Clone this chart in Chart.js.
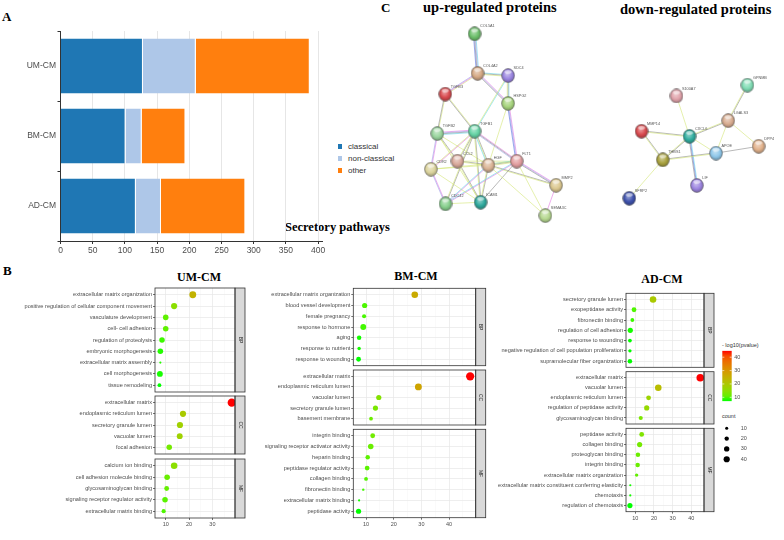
<!DOCTYPE html>
<html>
<head>
<meta charset="utf-8">
<script src="https://cdn.jsdelivr.net/npm/chart.js@4/dist/chart.umd.min.js"></script>
<style>
  body { margin: 0; background: #fff; }
  #page { position: relative; width: 784px; height: 540px; overflow: hidden; background: #fff; font-family: "Liberation Sans", Arial, sans-serif; }
  #page canvas { position: absolute; }
  .lbl { position: absolute; white-space: nowrap; line-height: 1; }
  .serif { font-family: "Liberation Serif", "Times New Roman", serif; font-weight: bold; color: #000; }
  .mid { transform: translateX(-50%); }
  .small { font-size: 5.5px; color: #333; }
</style>
</head>
<body>
<div id="page">
  <div class="lbl serif" style="left:2px;top:10px;font-size:13px">A</div>
  <div class="lbl serif" style="left:3px;top:264px;font-size:13px">B</div>
  <div class="lbl serif" style="left:381px;top:1px;font-size:13px">C</div>
  <div class="lbl serif" style="left:285px;top:221px;font-size:12.5px">Secretory pathways</div>
  <div class="lbl serif" style="left:423px;top:0px;font-size:14.5px">up-regulated proteins</div>
  <div class="lbl serif" style="left:620px;top:2px;font-size:14.5px">down-regulated proteins</div>
  <div class="lbl serif mid" style="left:199px;top:271px;font-size:12px">UM-CM</div>
  <div class="lbl serif mid" style="left:416px;top:270px;font-size:12px">BM-CM</div>
  <div class="lbl serif mid" style="left:662px;top:273px;font-size:12px">AD-CM</div>
  <div class="lbl small" style="left:722px;top:343px">- log10(pvalue)</div>
  <div class="lbl small" style="left:722px;top:414px">count</div>
  <div id="legendA"></div>
</div>
<script>
'use strict';

Chart.defaults.font.family = '"Liberation Sans", Arial, sans-serif';

// A - secretory pathways
let groups = ['UM-CM', 'BM-CM', 'AD-CM'];
let classical = [128, 101, 117];
let nonClassical = [82, 25, 39];
let other = [177, 68, 131];
let pathwayNames = ['classical', 'non-classical', 'other'];
let pathwayColors = ['#1f77b4', '#aec7e8', '#ff7f0e'];
let pathwayTicks = [0, 50, 100, 150, 200, 250, 300, 350, 400];

// B - GO enrichment (x = -log10 p, count = gene count)
let umBpTerms = ['extracellular matrix organization', 'positive regulation of cellular component movement', 'vasculature development', 'cell- cell adhesion', 'regulation of proteolysis', 'embryonic morphogenesis', 'extracellular matrix assembly', 'cell morphogenesis', 'tissue remodeling'];
let umBpX = [21.6, 13.6, 10.0, 10.0, 8.4, 7.7, 7.7, 7.5, 7.3];
let umBpCount = [49, 40, 32, 32, 32, 32, 5, 36, 15];
let umCcTerms = ['extracellular matrix', 'endoplasmic reticulum lumen', 'secretory granule lumen', 'vacuolar lumen', 'focal adhesion'];
let umCcX = [38.3, 17.4, 16.1, 16.0, 11.5];
let umCcCount = [71, 40, 40, 36, 32];
let umMfTerms = ['calcium ion binding', 'cell adhesion molecule binding', 'glycosaminoglycan binding', 'signaling receptor regulator activity', 'extracellular matrix binding'];
let umMfX = [13.6, 10.6, 10.4, 9.7, 9.1];
let umMfCount = [45, 32, 24, 32, 18];

let bmBpTerms = ['extracellular matrix organization', 'blood vessel development', 'female pregnancy', 'response to hormone', 'aging', 'response to nutrient', 'response to wounding'];
let bmBpX = [27.6, 9.5, 9.3, 9.0, 7.5, 7.5, 7.3];
let bmBpCount = [45, 28, 18, 36, 21, 12, 24];
let bmCcTerms = ['extracellular matrix', 'endoplasmic reticulum lumen', 'vacuolar lumen', 'secretory granule lumen', 'basement membrane'];
let bmCcX = [47.6, 28.9, 14.6, 13.4, 11.8];
let bmCcCount = [71, 49, 28, 28, 15];
let bmMfTerms = ['integrin binding', 'signaling receptor activator activity', 'heparin binding', 'peptidase regulator activity', 'collagen binding', 'fibronectin binding', 'extracellular matrix binding', 'peptidase activity'];
let bmMfX = [12.4, 11.7, 10.6, 10.4, 10.0, 9.0, 7.5, 7.3];
let bmMfCount = [24, 32, 21, 24, 15, 6, 5, 28];

let adBpTerms = ['secretory granule lumen', 'exopeptidase activity', 'fibronectin binding', 'regulation of cell adhesion', 'response to wounding', 'negative regulation of cell population proliferation', 'supramolecular fiber organization'];
let adBpX = [19.5, 9.3, 8.4, 7.3, 7.1, 7.1, 7.1];
let adBpCount = [45, 24, 15, 28, 15, 12, 21];
let adCcTerms = ['extracellular matrix', 'vacuolar lumen', 'endoplasmic reticulum lumen', 'regulation of peptidase activity', 'glycosaminoglycan binding'];
let adCcX = [44.8, 22.3, 17.1, 16.1, 12.9];
let adCcCount = [60, 45, 24, 28, 18];
let adMfTerms = ['peptidase activity', 'collagen binding', 'proteoglycan binding', 'integrin binding', 'extracellular matrix organization', 'extracellular matrix constituent conferring elasticity', 'chemotaxis', 'regulation of chemotaxis'];
let adMfX = [13.4, 12.3, 11.4, 11.25, 10.7, 7.3, 7.3, 7.1];
let adMfCount = [24, 28, 21, 21, 12, 5, 5, 28];

let enrichTicks = [10, 20, 30, 40];
let colorTicks = [10, 20, 30, 40];
let countTicks = [10, 20, 30, 40];

// C - STRING networks
let upNames = ['COL5A1', 'COL4A2', 'SDC4', 'TGFB3', 'HSPG2', 'TGFB2', 'TGFB1', 'CCL2', 'HGF', 'FLT1', 'CDR2', 'MMP2', 'CDC42', 'ICAM1', 'SEMA3C'];
let upX = [72.7, 76, 109.3, 40.7, 109.3, 32, 72.7, 54, 87.7, 118.7, 25, 161.7, 41, 79.3, 150];
let upY = [11.7, 54.3, 56.7, 76.7, 86.7, 119.3, 116.7, 149, 153.3, 149, 157.7, 175, 195, 193.3, 207.7];
let upColors = ['#6cbf6a', '#d6aa86', '#9a85e0', '#d84a4e', '#a7d47e', '#9ad59e', '#66d4a5', '#d9a89a', '#dbb596', '#e39ea0', '#dcd49e', '#dcc890', '#86cf8c', '#2fa89c', '#b6d890'];
let upEdges = [
  ['COL5A1', 'COL4A2', 'cpkb'], ['COL4A2', 'SDC4', 'cky'], ['COL4A2', 'TGFB3', 'ymp'], ['COL4A2', 'HSPG2', 'mpk'],
  ['SDC4', 'HSPG2', 'cky'], ['SDC4', 'TGFB1', 'cy'], ['TGFB3', 'TGFB2', 'yk'], ['TGFB3', 'TGFB1', 'yk'],
  ['HSPG2', 'FLT1', 'mpb'], ['HSPG2', 'HGF', 'y'], ['TGFB2', 'TGFB1', 'mpkc'], ['TGFB2', 'CDR2', 'mp'],
  ['TGFB2', 'CCL2', 'ky'], ['TGFB2', 'HGF', 'y'], ['TGFB2', 'ICAM1', 'y'], ['TGFB1', 'CDR2', 'my'],
  ['TGFB1', 'CCL2', 'ky'], ['TGFB1', 'HGF', 'kyc'], ['TGFB1', 'FLT1', 'mkp'], ['TGFB1', 'ICAM1', 'ky'],
  ['TGFB1', 'CDC42', 'ky'], ['CCL2', 'HGF', 'ky'], ['CCL2', 'ICAM1', 'ky'], ['CCL2', 'FLT1', 'y'],
  ['HGF', 'FLT1', 'cky'], ['HGF', 'ICAM1', 'ky'], ['HGF', 'MMP2', 'ky'], ['FLT1', 'MMP2', 'mpk'],
  ['FLT1', 'CDC42', 'mc'], ['FLT1', 'ICAM1', 'k'], ['FLT1', 'SEMA3C', 'y'], ['HGF', 'SEMA3C', 'y'],
  ['MMP2', 'SEMA3C', 'm'], ['CDR2', 'CDC42', 'mp'], ['CDR2', 'ICAM1', 'y'], ['CDR2', 'HGF', 'y'],
  ['CDR2', 'FLT1', 'y'], ['CDC42', 'ICAM1', 'y'], ['HGF', 'CDC42', 'mc']
];

let downNames = ['GPNMB', 'S100A7', 'LGALS3', 'MMP14', 'CXCL6', 'DPP4', 'APOE', 'THBS1', 'LIF', 'SFRP2'];
let downX = [152.7, 75, 131.7, 36.7, 89.3, 165, 118.3, 60, 97.3, 23.3];
let downY = [19, 31, 58.3, 70, 75.7, 86.7, 94.3, 101.7, 130, 144.3];
let downColors = ['#80dcb4', '#e0a2aa', '#d9ad90', '#d94a4e', '#30ad9f', '#e2b28c', '#90c8ea', '#a9a23f', '#9d85e0', '#3f52ad'];
let downEdges = [
  ['S100A7', 'CXCL6', 'y'], ['GPNMB', 'LGALS3', 'ky'], ['LGALS3', 'CXCL6', 'ky'], ['LGALS3', 'APOE', 'y'],
  ['LGALS3', 'DPP4', 'y'], ['MMP14', 'CXCL6', 'ky'], ['MMP14', 'THBS1', 'ky'], ['CXCL6', 'THBS1', 'ky'],
  ['CXCL6', 'APOE', 'y'], ['CXCL6', 'LIF', 'cbk'], ['THBS1', 'APOE', 'ky'], ['APOE', 'DPP4', 'k'],
  ['THBS1', 'SFRP2', 'y']
];
let evidenceColors = { c: '#66d8ea', m: '#e278e2', y: '#d4e676', k: '#8a8a8a', p: '#a0a0e8', b: '#5a70e0' };

let page = document.getElementById('page');

function addCanvas(left, top, w, h) {
  let c = document.createElement('canvas');
  c.width = w;
  c.height = h;
  c.style.left = left + 'px';
  c.style.top = top + 'px';
  page.appendChild(c);
  return c;
}

// ggplot style green -> red gradient in Lab space
function rgbToLab(rgb) {
  let [r, g, b] = rgb.map(v => { v /= 255; return v <= 0.04045 ? v / 12.92 : Math.pow((v + 0.055) / 1.055, 2.4); });
  let x = (r * 0.4124 + g * 0.3576 + b * 0.1805) / 0.95047;
  let y = r * 0.2126 + g * 0.7152 + b * 0.0722;
  let z = (r * 0.0193 + g * 0.1192 + b * 0.9505) / 1.08883;
  let f = t => t > 0.008856 ? Math.cbrt(t) : 7.787 * t + 16 / 116;
  return [116 * f(y) - 16, 500 * (f(x) - f(y)), 200 * (f(y) - f(z))];
}
function labToRgb(lab) {
  let fy = (lab[0] + 16) / 116, fx = fy + lab[1] / 500, fz = fy - lab[2] / 200;
  let inv = t => t * t * t > 0.008856 ? t * t * t : (t - 16 / 116) / 7.787;
  let x = inv(fx) * 0.95047, y = inv(fy), z = inv(fz) * 1.08883;
  let r = x * 3.2406 - y * 1.5372 - z * 0.4986;
  let g = -x * 0.9689 + y * 1.8758 + z * 0.0415;
  let b = x * 0.0557 - y * 0.2040 + z * 1.0570;
  return [r, g, b].map(v => {
    v = v <= 0.0031308 ? 12.92 * v : 1.055 * Math.pow(v, 1 / 2.4) - 0.055;
    return Math.round(Math.max(0, Math.min(1, v)) * 255);
  });
}
let lowLab = rgbToLab([0, 255, 0]);
let highLab = rgbToLab([255, 0, 0]);
function pvalColor(v, lo, hi) {
  let t = Math.max(0, Math.min(1, (v - lo) / (hi - lo)));
  let rgb = labToRgb(lowLab.map((c, i) => c + (highLab[i] - c) * t));
  return 'rgb(' + rgb.join(',') + ')';
}
function sizeFor(count) {
  return 0.49 * Math.sqrt(count);
}

// ---------- A ----------
let canvasA = addCanvas(0, 0, 330, 262);
new Chart(canvasA, {
  type: 'bar',
  data: {
    labels: groups,
    datasets: [classical, nonClassical, other].map((d, i) => ({
      label: pathwayNames[i],
      data: d,
      backgroundColor: pathwayColors[i],
      borderColor: '#ffffff',
      borderWidth: { right: 1, left: 0, top: 0, bottom: 0 },
      borderSkipped: false,
      barPercentage: 1,
      categoryPercentage: 0.786
    }))
  },
  options: {
    indexAxis: 'y',
    responsive: false,
    animation: false,
    events: [],
    layout: { padding: { top: 31, right: 8, left: 0, bottom: 0 } },
    plugins: { legend: { display: false }, tooltip: { enabled: false } },
    scales: {
      x: {
        stacked: true, min: 0, max: 406,
        afterBuildTicks: s => { s.ticks = pathwayTicks.map(v => ({ value: v })); },
        afterFit: s => { s.height = 21; },
        ticks: { font: { size: 8.5 }, color: '#4d4d4d', padding: 2, maxRotation: 0, autoSkip: false },
        grid: { color: '#e6e6e6', tickLength: 3, tickColor: '#333' },
        border: { color: '#333', width: 1 }
      },
      y: {
        stacked: true,
        afterFit: s => { s.width = 60.5; },
        ticks: { font: { size: 8.5 }, color: '#4d4d4d', padding: 1.5 },
        grid: { drawOnChartArea: false, tickLength: 3, color: '#333' },
        border: { color: '#333', width: 1 }
      }
    }
  }
});

let legendA = document.getElementById('legendA');
pathwayNames.forEach((name, i) => {
  let d = document.createElement('div');
  d.className = 'lbl';
  d.style.left = '338px';
  d.style.top = (143 + i * 12) + 'px';
  d.style.fontSize = '8px';
  d.style.color = '#333';
  d.innerHTML = '<span style="display:inline-block;width:4px;height:5px;margin-right:6px;background:' + pathwayColors[i] + '"></span>' + name;
  legendA.appendChild(d);
});

// ---------- B ----------
function facetChart(o) {
  let stripW = 10;
  let cTop = Math.floor(o.top) - 8;
  let padTop = o.top - cTop;
  let h = Math.ceil(o.bottom + (o.last ? 10 : 8)) - cTop;
  let axisH = o.last ? h - (o.bottom - cTop) : 0;
  let padBottom = o.last ? 0 : h - (o.bottom - cTop);
  let w = Math.ceil(o.plotRight + stripW + 3) - o.left;
  let padRight = w - (o.plotRight - o.left);
  let yW = o.plotLeft - o.left;
  let canvas = addCanvas(o.left, cTop, w, h);
  let minor = [];
  for (let v = 5; v <= o.xmax; v += 5) {
    if (v >= o.xmin) minor.push(v);
  }
  let frame = {
    id: 'facetFrame',
    afterDraw(chart) {
      let a = chart.chartArea, ctx = chart.ctx;
      ctx.save();
      ctx.fillStyle = '#d9d9d9';
      ctx.fillRect(a.right, a.top, stripW, a.bottom - a.top);
      ctx.strokeStyle = '#333';
      ctx.lineWidth = 0.8;
      ctx.strokeRect(a.left, a.top, a.right - a.left, a.bottom - a.top);
      ctx.strokeRect(a.right, a.top, stripW, a.bottom - a.top);
      ctx.translate(a.right + stripW / 2, (a.top + a.bottom) / 2);
      ctx.rotate(Math.PI / 2);
      ctx.fillStyle = '#1a1a1a';
      ctx.font = '5px "Liberation Sans"';
      ctx.textAlign = 'center';
      ctx.textBaseline = 'middle';
      ctx.fillText(o.strip, 0, 0);
      ctx.restore();
    }
  };
  new Chart(canvas, {
    type: 'scatter',
    data: {
      datasets: [{
        data: o.xs.map((x, i) => ({ x: x, y: i })),
        pointRadius: o.counts.map(sizeFor),
        backgroundColor: o.xs.map(x => pvalColor(x, o.lo, o.hi)),
        borderWidth: 0,
        clip: false
      }]
    },
    options: {
      responsive: false,
      animation: false,
      events: [],
      layout: { padding: { top: padTop, bottom: padBottom, left: 0, right: padRight } },
      plugins: { legend: { display: false }, tooltip: { enabled: false } },
      scales: {
        x: {
          type: 'linear', min: o.xmin, max: o.xmax,
          afterBuildTicks: s => { s.ticks = minor.map(v => ({ value: v })); },
          afterFit: s => { s.height = axisH; },
          ticks: {
            display: o.last, autoSkip: false, maxRotation: 0, padding: 1,
            font: { size: 5.5 }, color: '#4d4d4d',
            callback: v => enrichTicks.includes(v) ? v : ''
          },
          grid: {
            color: c => c.tick && c.tick.value % 10 === 0 ? '#e6e6e6' : '#f3f3f3',
            lineWidth: c => c.tick && c.tick.value % 10 === 0 ? 0.7 : 0.4,
            drawTicks: o.last, tickLength: 2,
            tickColor: c => c.tick && c.tick.value % 10 === 0 ? '#333' : 'rgba(0,0,0,0)'
          },
          border: { display: false }
        },
        y: {
          type: 'linear', reverse: true, min: -0.6, max: o.terms.length - 0.4,
          afterBuildTicks: s => { s.ticks = o.terms.map((t, i) => ({ value: i })); },
          afterFit: s => { s.width = yW; },
          ticks: { autoSkip: false, padding: 1, font: { size: 5.6 }, color: '#4d4d4d', callback: v => o.terms[v] },
          grid: { color: '#e6e6e6', lineWidth: 0.7, tickLength: 2, tickColor: '#333' },
          border: { display: false }
        }
      }
    },
    plugins: [frame]
  });
}

function enrichPanel(p) {
  let all = p.facets.reduce((acc, f) => acc.concat(f.xs), []);
  let lo = Math.min(...all), hi = Math.max(...all);
  p.facets.forEach((f, i) => {
    facetChart({
      left: p.left, plotLeft: p.plotLeft, plotRight: p.plotRight,
      top: f.top, bottom: f.bottom, terms: f.terms, xs: f.xs, counts: f.counts,
      strip: f.strip, last: i === p.facets.length - 1,
      xmin: p.xmin, xmax: p.xmax, lo: lo, hi: hi
    });
  });
  return [lo, hi];
}

enrichPanel({
  left: 0, plotLeft: 155, plotRight: 235, xmin: 5.4, xmax: 39.7,
  facets: [
    { strip: 'BP', top: 288, bottom: 392, terms: umBpTerms, xs: umBpX, counts: umBpCount },
    { strip: 'CC', top: 396, bottom: 454, terms: umCcTerms, xs: umCcX, counts: umCcCount },
    { strip: 'MF', top: 459, bottom: 518, terms: umMfTerms, xs: umMfX, counts: umMfCount }
  ]
});
enrichPanel({
  left: 248, plotLeft: 353.3, plotRight: 475.7, xmin: 5.4, xmax: 49.6,
  facets: [
    { strip: 'BP', top: 288.3, bottom: 365.7, terms: bmBpTerms, xs: bmBpX, counts: bmBpCount },
    { strip: 'CC', top: 370, bottom: 425, terms: bmCcTerms, xs: bmCcX, counts: bmCcCount },
    { strip: 'MF', top: 429.3, bottom: 517.7, terms: bmMfTerms, xs: bmMfX, counts: bmMfCount }
  ]
});
let adRange = enrichPanel({
  left: 490, plotLeft: 626, plotRight: 704, xmin: 5.0, xmax: 46.8,
  facets: [
    { strip: 'BP', top: 293.3, bottom: 367.3, terms: adBpTerms, xs: adBpX, counts: adBpCount },
    { strip: 'CC', top: 371.7, bottom: 424, terms: adCcTerms, xs: adCcX, counts: adCcCount },
    { strip: 'MF', top: 428.3, bottom: 511.7, terms: adMfTerms, xs: adMfX, counts: adMfCount }
  ]
});

// colour bar legend
let cbCanvas = addCanvas(715, 345, 40, 62);
new Chart(cbCanvas, {
  type: 'bar',
  data: {
    labels: [''],
    datasets: [{
      data: [adRange],
      barPercentage: 1,
      categoryPercentage: 1,
      borderWidth: 0,
      backgroundColor: c => {
        let a = c.chart.chartArea;
        if (!a) return '#888';
        let g = c.chart.ctx.createLinearGradient(0, a.bottom, 0, a.top);
        for (let k = 0; k <= 10; k++) {
          g.addColorStop(k / 10, pvalColor(adRange[0] + (adRange[1] - adRange[0]) * k / 10, adRange[0], adRange[1]));
        }
        return g;
      }
    }]
  },
  options: {
    responsive: false, animation: false, events: [],
    layout: { padding: { left: 7.3, top: 5.7, bottom: 5.3, right: 0 } },
    plugins: { legend: { display: false }, tooltip: { enabled: false } },
    scales: {
      x: { display: false },
      y: {
        position: 'right', min: adRange[0], max: adRange[1],
        afterBuildTicks: s => { s.ticks = colorTicks.map(v => ({ value: v })); },
        afterFit: s => { s.width = 23.3; },
        ticks: { font: { size: 5.5 }, color: '#4d4d4d', padding: 2.5, autoSkip: false },
        grid: { drawOnChartArea: false, drawTicks: false },
        border: { display: false }
      }
    }
  },
  plugins: [{
    id: 'barTicks',
    afterDatasetsDraw(chart) {
      let a = chart.chartArea, ctx = chart.ctx, sy = chart.scales.y;
      ctx.save();
      ctx.strokeStyle = '#fff';
      ctx.lineWidth = 0.6;
      colorTicks.forEach(v => {
        let y = sy.getPixelForValue(v);
        ctx.beginPath();
        ctx.moveTo(a.left, y); ctx.lineTo(a.left + 2, y);
        ctx.moveTo(a.right - 2, y); ctx.lineTo(a.right, y);
        ctx.stroke();
      });
      ctx.restore();
    }
  }]
});

// count size legend
let cnCanvas = addCanvas(715, 410, 40, 64);
new Chart(cnCanvas, {
  type: 'scatter',
  data: {
    datasets: [{
      data: countTicks.map(v => ({ x: 0, y: v })),
      pointRadius: countTicks.map(sizeFor),
      backgroundColor: '#000',
      borderWidth: 0,
      clip: false
    }]
  },
  options: {
    responsive: false, animation: false, events: [],
    layout: { padding: { left: 8.7, top: 13.1, bottom: 9.6, right: 0 } },
    plugins: { legend: { display: false }, tooltip: { enabled: false } },
    scales: {
      x: { display: false, min: -1, max: 1 },
      y: {
        position: 'right', reverse: true, min: 5, max: 45,
        afterBuildTicks: s => { s.ticks = countTicks.map(v => ({ value: v })); },
        afterFit: s => { s.width = 25.3; },
        ticks: { font: { size: 5.5 }, color: '#4d4d4d', padding: 3, autoSkip: false },
        grid: { display: false },
        border: { display: false }
      }
    }
  }
});

// ---------- C ----------
function mix(hex, target, t) {
  let a = [1, 3, 5].map(i => parseInt(hex.substr(i, 2), 16));
  return 'rgb(' + a.map((v, i) => Math.round(v + (target[i] - v) * t)).join(',') + ')';
}
function nodeImage(color) {
  let c = document.createElement('canvas');
  c.width = 14;
  c.height = 15;
  let g = c.getContext('2d');
  let grad = g.createRadialGradient(6, 5.5, 0.5, 7, 7.5, 7.5);
  grad.addColorStop(0, mix(color, [255, 255, 255], 0.45));
  grad.addColorStop(0.55, color);
  grad.addColorStop(1, mix(color, [0, 0, 0], 0.3));
  g.beginPath();
  g.ellipse(7, 7.5, 6.4, 6.9, 0, 0, 2 * Math.PI);
  g.fillStyle = grad;
  g.fill();
  g.strokeStyle = 'rgba(80,80,80,0.75)';
  g.lineWidth = 0.7;
  g.stroke();
  g.beginPath();
  g.ellipse(7, 3.9, 3.6, 1.8, 0, 0, 2 * Math.PI);
  g.fillStyle = 'rgba(255,255,255,0.55)';
  g.fill();
  return c;
}

function networkChart(net) {
  let canvas = addCanvas(net.left, net.top, net.width, net.height);
  let drawNet = {
    id: 'drawNet',
    beforeDatasetsDraw(chart) {
      let ctx = chart.ctx, sx = chart.scales.x, sy = chart.scales.y;
      ctx.save();
      ctx.lineWidth = 0.6;
      net.edges.forEach(e => {
        let a = net.names.indexOf(e[0]), b = net.names.indexOf(e[1]);
        let x1 = sx.getPixelForValue(net.xs[a]), y1 = sy.getPixelForValue(net.ys[a]);
        let x2 = sx.getPixelForValue(net.xs[b]), y2 = sy.getPixelForValue(net.ys[b]);
        let len = Math.hypot(x2 - x1, y2 - y1);
        let nx = -(y2 - y1) / len, ny = (x2 - x1) / len;
        let kinds = e[2].split('');
        kinds.forEach((k, j) => {
          let off = (j - (kinds.length - 1) / 2) * 0.8;
          ctx.strokeStyle = evidenceColors[k];
          ctx.beginPath();
          ctx.moveTo(x1 + nx * off, y1 + ny * off);
          ctx.lineTo(x2 + nx * off, y2 + ny * off);
          ctx.stroke();
        });
      });
      ctx.restore();
    },
    afterDatasetsDraw(chart) {
      let ctx = chart.ctx, sx = chart.scales.x, sy = chart.scales.y;
      ctx.save();
      ctx.fillStyle = '#555';
      ctx.font = '3.8px "Liberation Sans"';
      ctx.textBaseline = 'middle';
      net.names.forEach((n, i) => {
        ctx.fillText(n, sx.getPixelForValue(net.xs[i]) + 5.5, sy.getPixelForValue(net.ys[i]) - 7.5);
      });
      ctx.restore();
    }
  };
  new Chart(canvas, {
    type: 'scatter',
    data: {
      datasets: [{
        data: net.xs.map((x, i) => ({ x: x, y: net.ys[i] })),
        pointStyle: net.colors.map(nodeImage),
        pointRadius: 7,
        clip: false
      }]
    },
    options: {
      responsive: false, animation: false, events: [],
      layout: { padding: 0 },
      plugins: { legend: { display: false }, tooltip: { enabled: false } },
      scales: {
        x: { display: false, min: 0, max: net.width },
        y: { display: false, min: 0, max: net.height, reverse: true }
      }
    },
    plugins: [drawNet]
  });
}

networkChart({ left: 400, top: 15, width: 190, height: 220, names: upNames, xs: upX, ys: upY, colors: upColors, edges: upEdges });
networkChart({ left: 600, top: 60, width: 184, height: 165, names: downNames, xs: downX, ys: downY, colors: downColors, edges: downEdges });
</script>
</body>
</html>
